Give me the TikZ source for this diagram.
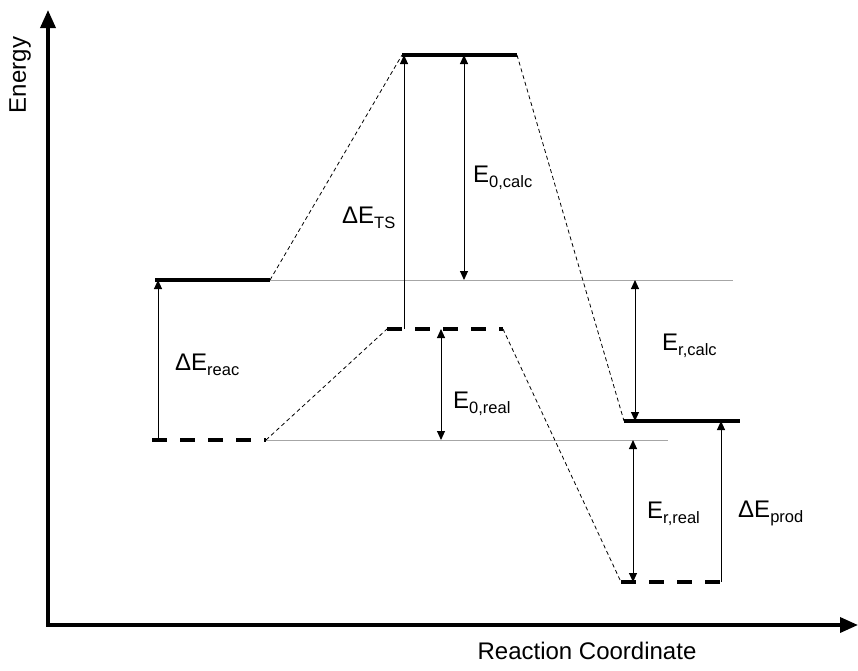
\documentclass[tikz,border=0pt]{standalone}
\usepackage{fontspec}
\setmainfont{Liberation Sans}
\usetikzlibrary{arrows.meta,calc}
\newcommand\lsub[1]{\raisebox{-5pt}{\fontsize{16.5}{18}\selectfont #1}}
\tikzset{
%Define standard arrow tip
>={Triangle[length=9pt,width=8pt]},
%Define styles for the energy levels and the lines between them
calc level/.style={line width=3.3pt},
real level/.style={line width=3.3pt, dash pattern=on 15pt off 13pt},
link/.style={line width=0.8pt, dash pattern=on 4pt off 3pt},
ref line/.style={line width=0.7pt, gray!70},
gap/.style={line width=1pt},
axis/.style={line width=3.5pt, {Triangle[length=18pt,width=15pt]}-{Triangle[length=18pt,width=15pt]}},
lab/.style={font=\fontsize{24}{28}\selectfont, inner sep=0pt},
}

\begin{document}
\begin{tikzpicture}[x=1pt,y=-1pt]
    \useasboundingbox (0,0) rectangle (858,670);

    % axis
    \coordinate (origin) at (48,625);
    \coordinate (ytip) at (48,10);
    \coordinate (xtip) at (858,625);
    \draw[axis] (ytip) -- (origin) -- (xtip);
    \node[lab, rotate=90] (energy) at (20,75) {Energy};
    \node[lab] (rxn) at (587,651) {Reaction Coordinate};

    % level ends
    \coordinate (rc1) at (155,280);
    \coordinate (rc2) at (270,280);
    \coordinate (rr1) at (152,440);
    \coordinate (rr2) at (266,440);
    \coordinate (tc1) at (402,55);
    \coordinate (tc2) at (517,55);
    \coordinate (tr1) at (387,329);
    \coordinate (tr2) at (503,329);
    \coordinate (pc1) at (624,421);
    \coordinate (pc2) at (740,421);
    \coordinate (pr1) at (621,582);
    \coordinate (pr2) at (721,582);
    \coordinate (rcend) at (733,280);
    \coordinate (rrend) at (668,440);

    % levels
    \draw[calc level] (rc1) -- (rc2);
    \draw[calc level] (tc1) -- (tc2);
    \draw[calc level] (pc1) -- (pc2);
    \draw[real level] (rr1) -- (rr2);
    \draw[real level] (tr1) -- (tr2);
    \draw[real level] (pr1) -- (pr2);

    % reference lines
    \draw[ref line] (rc2) -- (rcend);
    \draw[ref line] (rr2) -- (rrend);

    % links between levels
    \draw[link] (rc2) -- (tc1);
    \draw[link] (tc2) -- (pc1);
    \draw[link] (rr2) -- (tr1);
    \draw[link] (tr2) -- (pr1);

    % arrow columns
    \coordinate (creac) at (158,0);
    \coordinate (cts) at (404,0);
    \coordinate (cocalc) at (464,0);
    \coordinate (coreal) at (441,0);
    \coordinate (crcalc) at (635,0);
    \coordinate (crreal) at (633,0);

    % energy differences
    \draw[gap,->] (creac |- rr1) -- (creac |- rc1);
    \draw[gap,->] (cts |- tr1) -- (cts |- tc1);
    \draw[gap,<->] (cocalc |- tc1) -- (cocalc |- rcend);
    \draw[gap,<->] (coreal |- tr1) -- (coreal |- rrend);
    \draw[gap,<->] (crcalc |- rcend) -- (crcalc |- pc1);
    \draw[gap,<->] (crreal |- rrend) -- (crreal |- pr1);
    \draw[gap,->] (pr2) -- (pr2 |- pc1);

    % labels
    \node[lab, anchor=base west] (dreac) at (175,370) {ΔE\lsub{reac}};
    \node[lab, anchor=base west] (dts) at (342,223) {ΔE\lsub{TS}};
    \node[lab, anchor=base west] (e0calc) at (473,182) {E\lsub{0,calc}};
    \node[lab, anchor=base west] (e0real) at (453,408) {E\lsub{0,real}};
    \node[lab, anchor=base west] (ercalc) at (662,350) {E\lsub{r,calc}};
    \node[lab, anchor=base west] (erreal) at (647,518) {E\lsub{r,real}};
    \node[lab, anchor=base west] (dprod) at (738,517) {ΔE\lsub{prod}};
\end{tikzpicture}
\end{document}
